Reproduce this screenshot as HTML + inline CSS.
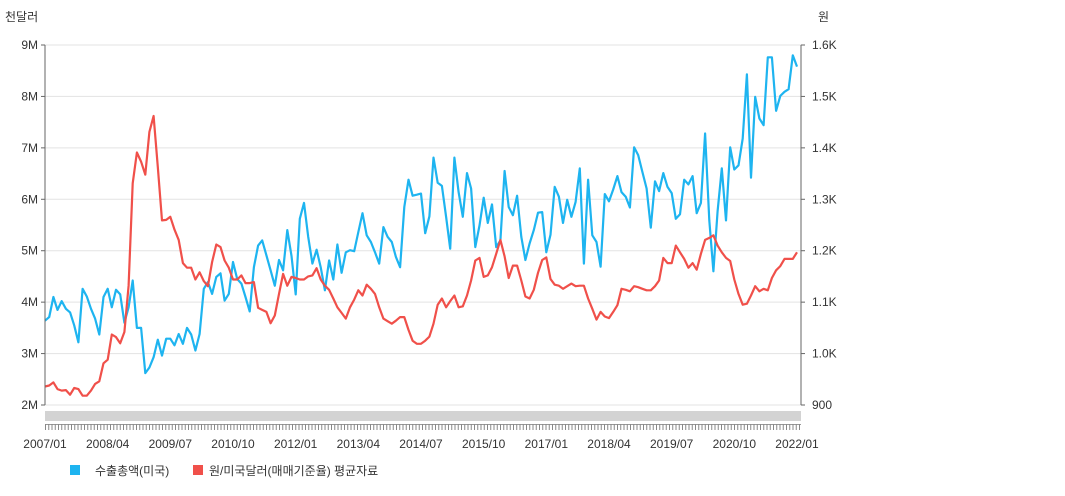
<!DOCTYPE html>
<html><head><meta charset="utf-8"><style>
body{margin:0;background:#fff;font-family:"Liberation Sans","Noto Sans CJK KR",sans-serif;}
svg text{font-family:"Liberation Sans","Noto Sans CJK KR",sans-serif;font-size:12px;fill:#333;}
</style></head><body>
<svg id="chart" width="1065" height="491">
<text x="5" y="21">천달러</text>
<text x="818" y="21">원</text>
<g id="grid"></g><g id="series"></g><g id="axes"></g>
<rect x="45" y="411" width="756" height="10" fill="#d3d3d3"/>
<g>
<rect x="70" y="465" width="10" height="10" fill="#1eb4f0"/>
<text x="95" y="475">수출총액(미국)</text>
<rect x="193" y="465" width="10" height="10" fill="#f0504a"/>
<text x="209" y="475">원/미국달러(매매기준율) 평균자료</text>
</g>
</svg>
<script>
const startYear = 2007;
const xTickLabels = ["2007/01","2008/04","2009/07","2010/10","2012/01","2013/04","2014/07","2015/10","2017/01","2018/04","2019/07","2020/10","2022/01"];
const leftTicks = [2,3,4,5,6,7,8,9];
const rightTicks = [900,1000,1100,1200,1300,1400,1500,1600];
const rightTickLabels = ["900","1.0K","1.1K","1.2K","1.3K","1.4K","1.5K","1.6K"];
const exportValues = [3.64,3.71,4.10,3.85,4.02,3.87,3.80,3.55,3.22,4.26,4.11,3.87,3.68,3.37,4.10,4.26,3.90,4.24,4.15,3.60,3.90,4.42,3.50,3.50,2.62,2.73,2.93,3.27,2.96,3.29,3.29,3.16,3.38,3.19,3.50,3.37,3.06,3.38,4.26,4.39,4.16,4.49,4.56,4.03,4.16,4.78,4.45,4.36,4.10,3.82,4.68,5.10,5.20,4.91,4.62,4.32,4.82,4.62,5.40,4.90,
4.15,5.62,5.93,5.27,4.75,5.02,4.68,4.23,4.81,4.44,5.12,4.57,4.97,5.01,4.99,5.36,5.73,5.30,5.17,4.97,4.75,5.46,5.27,5.17,4.88,4.68,5.85,6.38,6.07,6.09,6.11,5.34,5.67,6.81,6.32,6.26,5.66,5.04,6.81,6.14,5.66,6.51,6.21,5.07,5.49,6.03,5.54,5.90,5.07,5.20,6.55,5.85,5.69,6.07,5.27,4.82,5.14,5.40,5.74,5.75,
4.97,5.31,6.24,6.05,5.54,5.99,5.66,5.95,6.60,4.75,6.38,5.30,5.17,4.69,6.10,5.96,6.19,6.45,6.14,6.05,5.84,7.01,6.86,6.53,6.21,5.45,6.35,6.16,6.51,6.24,6.12,5.62,5.71,6.38,6.29,6.45,5.73,5.93,7.28,5.59,4.60,5.77,6.60,5.59,7.01,6.58,6.66,7.18,8.43,6.42,7.99,7.57,7.44,8.76,8.76,7.72,8.01,8.09,8.14,8.80,8.58];
const rateValues = [936,938,944,931,928,929,920,933,931,918,918,928,941,946,981,988,1037,1032,1020,1042,1132,1331,1391,1373,1348,1431,1462,1363,1259,1260,1266,1241,1221,1176,1167,1167,1144,1158,1141,1131,1178,1212,1207,1181,1167,1144,1144,1152,1137,1137,1139,1089,1085,1081,1059,1074,1116,1155,1132,1149,
1147,1144,1144,1150,1152,1166,1144,1132,1124,1107,1090,1079,1068,1090,1105,1123,1113,1134,1126,1116,1090,1068,1063,1058,1064,1071,1071,1046,1025,1019,1019,1025,1033,1058,1095,1107,1090,1102,1113,1090,1092,1113,1142,1181,1186,1149,1152,1168,1194,1221,1189,1147,1171,1171,1142,1111,1107,1124,1157,1182,
1187,1145,1134,1132,1126,1131,1136,1131,1132,1132,1107,1087,1066,1081,1072,1069,1081,1094,1126,1124,1121,1131,1129,1126,1123,1123,1131,1142,1186,1176,1176,1210,1197,1184,1167,1176,1163,1194,1221,1225,1230,1210,1197,1186,1180,1144,1116,1095,1097,1113,1131,1121,1126,1123,1147,1162,1170,1184,1184,1184,1197];

const NS="http://www.w3.org/2000/svg";
const X0=45,X1=797,Y0=405,Y1=45;
const n=exportValues.length;
const xS=i=>X0+(X1-X0)*i/(n-1);
const yL=v=>Y0-(v-2)/(9-2)*(Y0-Y1);
const yR=v=>Y0-(v-900)/(1600-900)*(Y0-Y1);
function mk(tag,attrs,parent){const e=document.createElementNS(NS,tag);for(const k in attrs)e.setAttribute(k,attrs[k]);parent.appendChild(e);return e;}
const grid=document.getElementById('grid'),axes=document.getElementById('axes'),ser=document.getElementById('series');
leftTicks.forEach((v,k)=>{
 const g=mk('line',{x1:X0,x2:801,y1:yL(v),y2:yL(v),stroke:'#e3e3e3','stroke-width':1},grid);
 
 
 const t=mk('text',{x:38,y:yL(v)+4,'text-anchor':'end'},axes);t.textContent=v+'M';
 
 
 mk('line',{x1:41,x2:45,y1:yL(v),y2:yL(v),stroke:'#666'},axes);
 const r=mk('text',{x:812,y:yR(rightTicks[k])+4},axes);r.textContent=rightTickLabels[k];
 
 
 mk('line',{x1:801,x2:805,y1:yR(rightTicks[k]),y2:yR(rightTicks[k]),stroke:'#666'},axes);
});
mk('line',{x1:X0,x2:X0,y1:Y1,y2:Y0,stroke:'#666'},axes);
mk('line',{x1:801,x2:801,y1:Y1,y2:Y0,stroke:'#666'},axes);
mk('line',{x1:45,x2:801,y1:424.5,y2:424.5,stroke:'#999','stroke-width':1},axes);
for(let x=45.5;x<=801;x+=3.25){mk('line',{x1:x,x2:x,y1:424,y2:430,stroke:'#888','stroke-width':1},axes);}
xTickLabels.forEach((l,k)=>{
 const t=mk('text',{x:xS(k*15),y:448,'text-anchor':'middle'},axes);t.textContent=l;
 
 
});
function line(vals,ys,color,name){
 const p=mk('polyline',{points:vals.map((v,i)=>xS(i).toFixed(1)+','+ys(v).toFixed(1)).join(' '),fill:'none',stroke:color,'stroke-width':2.2,'stroke-linejoin':'round'},ser);
 
 
}
line(exportValues,yL,'#1eb4f0','export-line');
line(rateValues,yR,'#f0504a','exchange-rate-line');
</script>
</body></html>
